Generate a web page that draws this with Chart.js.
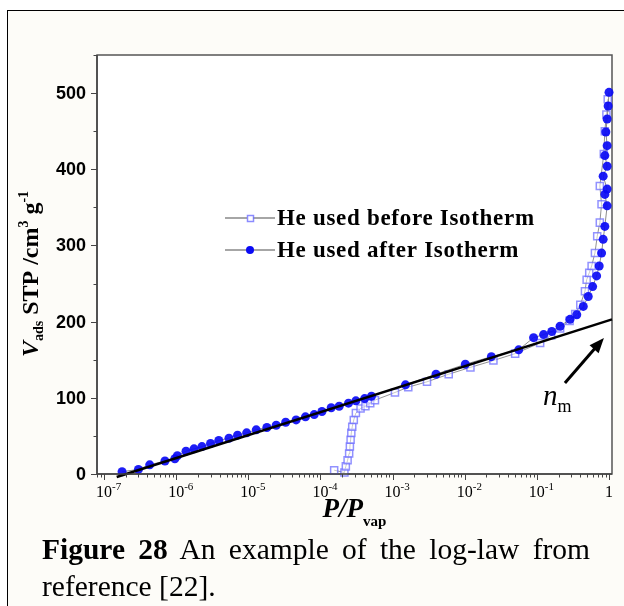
<!DOCTYPE html>
<html>
<head>
<meta charset="utf-8">
<script src="https://cdn.jsdelivr.net/npm/chart.js@4.4.1/dist/chart.umd.min.js"></script>
<style>
  html, body { margin: 0; padding: 0; background: #fff; overflow: hidden; }
  #fig { position: relative; width: 624px; height: 606px; }
  #frame { position: absolute; left: 7px; top: 10px; width: 700px; height: 700px;
           border: 1px solid #000; background: #fdfcf8; }
  #chart { position: absolute; left: 0; top: 0; }
  .caption { position: absolute; left: 42px; font-family: "Liberation Serif", "Times New Roman", serif;
             font-size: 29.5px; line-height: 1; color: #000; white-space: nowrap; }
  .caption.full { width: 548px; text-align: justify; text-align-last: justify; white-space: normal; }
</style>
</head>
<body>
<div id="fig">
  <div id="frame"></div>
  <canvas id="chart" width="624" height="606"></canvas>
  <div class="caption full" style="top:535px"><b>Figure 28</b> An example of the log-law from</div>
  <div class="caption" style="top:572px">reference [22].</div>
</div>
<script>
// relative pressure P/Pvap and adsorbed volume (cm3 STP / g)
const beforeP = [1.55e-4, 2.15e-4, 2.25e-4, 2.38e-4, 2.5e-4, 2.56e-4, 2.62e-4, 2.68e-4, 2.76e-4,
  2.9e-4, 3.1e-4, 3.6e-4, 4.2e-4, 4.9e-4, 5.7e-4, 1.08e-3, 1.65e-3, 3.0e-3, 6.0e-3, 1.2e-2,
  2.5e-2, 5.0e-2, 0.111, 0.158, 0.21, 0.284, 0.34, 0.40, 0.464, 0.49, 0.532, 0.574, 0.638,
  0.686, 0.746, 0.788, 0.746, 0.847, 0.875, 0.92, 0.96];
const beforeV = [5, 2, 10, 18, 27, 36, 45, 54, 62, 71, 80, 86, 89, 93, 97, 107, 114, 121, 131,
  140, 149, 158, 172, 182, 191, 201, 210, 222, 240, 255, 264, 273, 290, 312, 330, 354, 378, 420,
  450, 472, 492];

const afterP = [1.78e-7, 3.0e-7, 4.3e-7, 7.0e-7, 9.6e-7, 1.04e-6, 1.37e-6, 1.77e-6, 2.28e-6,
  3.0e-6, 3.9e-6, 5.4e-6, 7.1e-6, 9.5e-6, 1.29e-5, 1.81e-5, 2.44e-5, 3.3e-5, 4.6e-5, 6.2e-5,
  8.2e-5, 1.05e-4, 1.41e-4, 1.82e-4, 2.45e-4, 3.1e-4, 4.1e-4, 5.1e-4, 1.51e-3, 4.0e-3, 1.02e-2,
  2.34e-2, 5.6e-2, 0.090, 0.124, 0.161, 0.210, 0.288, 0.357, 0.440, 0.515, 0.593, 0.673, 0.731,
  0.789, 0.830, 0.875, 0.942, 0.875, 0.942, 0.830, 0.942, 0.875, 0.942, 0.904, 0.942, 0.973, 1.0];
const afterV = [3, 6, 12, 17, 20, 24, 30, 33, 36, 40, 44, 47, 51, 54, 58, 61, 64, 68, 71, 75,
  78, 82, 87, 89, 93, 96, 99, 102, 117, 131, 144, 154, 163, 179, 183, 187, 194, 203, 209, 220,
  233, 246, 260, 273, 290, 308, 325, 352, 367, 374, 391, 404, 418, 431, 449, 466, 483, 501];

// straight log-law fit through the low-pressure branch
const fitP = [1.5e-7, 1.1];
const fitV = [-4, 203];

const xDecades = [1e-7, 1e-6, 1e-5, 1e-4, 1e-3, 1e-2, 1e-1, 1];
const yTickValues = [0, 100, 200, 300, 400, 500];

const serif = '"Liberation Serif", "Times New Roman", serif';
const sans = '"Liberation Sans", Arial, sans-serif';

function toPoints(xs, ys) {
  return xs.map((x, i) => ({ x: x, y: ys[i] }));
}

// draw a row of text pieces with different fonts / baseline shifts
function drawRuns(ctx, runs, x, y, align) {
  let total = 0;
  runs.forEach(r => { ctx.font = r.font; r.w = ctx.measureText(r.t).width; total += r.w; });
  let cx = align === 'center' ? x - total / 2 : x;
  ctx.textAlign = 'left';
  runs.forEach(r => {
    ctx.font = r.font;
    ctx.fillText(r.t, cx, y + (r.dy || 0));
    cx += r.w;
  });
}

const decor = {
  id: 'decor',
  beforeDraw(chart) {
    const { ctx, chartArea: a } = chart;
    ctx.save();
    ctx.fillStyle = '#fff';
    ctx.fillRect(a.left, a.top, a.right - a.left, a.bottom - a.top);
    ctx.restore();
  },
  beforeDatasetsDraw(chart) {
    const { ctx, chartArea: a } = chart;
    ctx.save();
    ctx.strokeStyle = '#555';
    ctx.lineWidth = 1.5;
    ctx.strokeRect(a.left, a.top, a.right - a.left, a.bottom - a.top);
    ctx.restore();
  },
  afterDraw(chart) {
    const { ctx, chartArea: a, scales } = chart;
    const xs = scales.x, ys = scales.y;
    ctx.save();
    ctx.fillStyle = '#000';
    ctx.textBaseline = 'alphabetic';

    // axis lines and tick marks
    ctx.strokeStyle = '#444';
    ctx.lineWidth = 1.5;
    ctx.beginPath();
    ctx.moveTo(a.left, a.top); ctx.lineTo(a.left, a.bottom); ctx.lineTo(a.right, a.bottom);
    ctx.stroke();
    ctx.lineWidth = 1;
    ctx.beginPath();
    for (let e = -8; e <= 0; e++) {
      for (let m = 1; m <= 9; m++) {
        const v = m * Math.pow(10, e);
        if (v < xs.min || v > xs.max) continue;
        const px = Math.round(xs.getPixelForValue(v)) + 0.5;
        ctx.moveTo(px, a.bottom);
        ctx.lineTo(px, a.bottom + (m === 1 ? 6 : 3.5));
      }
    }
    for (let v = 0; v <= ys.max; v += 50) {
      const py = Math.round(ys.getPixelForValue(v)) + 0.5;
      ctx.moveTo(a.left, py);
      ctx.lineTo(a.left - (v % 100 === 0 ? 6 : 3.5), py);
    }
    ctx.stroke();

    // x tick labels: 10 with superscript exponent
    xDecades.forEach(v => {
      const px = xs.getPixelForValue(v);
      const exp = Math.round(Math.log10(v));
      ctx.textAlign = 'center';
      ctx.font = '16px ' + serif;
      if (exp === 0) {
        ctx.fillText('1', px, 497);
        return;
      }
      ctx.fillText('10', px, 497);
      const w = ctx.measureText('10').width;
      ctx.textAlign = 'left';
      ctx.font = '11px ' + serif;
      ctx.fillText(String(exp), px + w / 2, 490);
    });

    // y tick labels
    ctx.font = 'bold 18px ' + sans;
    ctx.textAlign = 'right';
    ctx.textBaseline = 'middle';
    yTickValues.forEach(v => ctx.fillText(String(v), a.left - 11, ys.getPixelForValue(v) + 1));
    ctx.textBaseline = 'alphabetic';

    // x axis title
    drawRuns(ctx, [
      { t: 'P/P', font: 'italic bold 27px ' + serif },
      { t: 'vap', font: 'bold 15px ' + serif, dy: 9 }
    ], (a.left + a.right) / 2, 517, 'center');

    // y axis title, rotated
    ctx.save();
    ctx.translate(38, 274);
    ctx.rotate(-Math.PI / 2);
    drawRuns(ctx, [
      { t: 'V', font: 'italic bold 24px ' + serif },
      { t: 'ads', font: 'bold 14px ' + serif, dy: 5 },
      { t: ' STP /cm', font: 'bold 24px ' + serif },
      { t: '3', font: 'bold 14px ' + serif, dy: -10 },
      { t: ' g', font: 'bold 24px ' + serif },
      { t: '-1', font: 'bold 14px ' + serif, dy: -10 }
    ], 0, 0, 'center');
    ctx.restore();

    // legend
    const rows = [218, 250];
    chart.data.datasets.slice(0, 2).forEach((ds, i) => {
      const ly = rows[i];
      ctx.strokeStyle = '#888';
      ctx.lineWidth = 1.5;
      ctx.beginPath();
      ctx.moveTo(225, ly); ctx.lineTo(275, ly);
      ctx.stroke();
      if (ds.pointStyle === 'rect') {
        ctx.fillStyle = '#fff';
        ctx.fillRect(247, ly - 3, 6, 6);
        ctx.strokeStyle = ds.borderColor;
        ctx.strokeRect(247.5, ly - 2.5, 6, 6);
      } else {
        ctx.fillStyle = ds.backgroundColor;
        ctx.beginPath(); ctx.arc(250, ly, 4, 0, Math.PI * 2); ctx.fill();
      }
      ctx.fillStyle = '#000';
      ctx.font = 'bold 23px ' + serif;
      ctx.letterSpacing = '0.7px';
      ctx.textAlign = 'left';
      ctx.textBaseline = 'middle';
      ctx.fillText(ds.label, 277, ly + 1);
      ctx.letterSpacing = '0px';
      ctx.textBaseline = 'alphabetic';
    });

    // arrow pointing at the end of the log-law line, with n_m label
    const tipX = xs.getPixelForValue(0.85);
    const tipY = ys.getPixelForValue(fitV[0] + (fitV[1] - fitV[0]) *
      (Math.log10(0.85) - Math.log10(fitP[0])) / (Math.log10(fitP[1]) - Math.log10(fitP[0]))) + 16;
    const tailX = tipX - 39, tailY = tipY + 45;
    const ang = Math.atan2(tipY - tailY, tipX - tailX);
    ctx.strokeStyle = '#000';
    ctx.fillStyle = '#000';
    ctx.lineWidth = 3;
    ctx.beginPath();
    ctx.moveTo(tailX, tailY);
    ctx.lineTo(tipX - 10 * Math.cos(ang), tipY - 10 * Math.sin(ang));
    ctx.stroke();
    ctx.beginPath();
    ctx.moveTo(tipX, tipY);
    ctx.lineTo(tipX - 15 * Math.cos(ang) + 6 * Math.sin(ang), tipY - 15 * Math.sin(ang) - 6 * Math.cos(ang));
    ctx.lineTo(tipX - 15 * Math.cos(ang) - 6 * Math.sin(ang), tipY - 15 * Math.sin(ang) + 6 * Math.cos(ang));
    ctx.closePath();
    ctx.fill();
    drawRuns(ctx, [
      { t: 'n', font: 'italic 29px ' + serif },
      { t: 'm', font: '18px ' + serif, dy: 7 }
    ], tipX - 61, tipY + 67, 'left');

    ctx.restore();
  }
};

new Chart(document.getElementById('chart'), {
  type: 'scatter',
  data: {
    datasets: [
      {
        label: 'He used before Isotherm',
        data: toPoints(beforeP, beforeV),
        showLine: true,
        borderColor: 'rgba(110,110,255,0.8)',
        backgroundColor: 'rgba(255,255,255,0.6)',
        pointStyle: 'rect',
        pointRadius: 5,
        pointBorderWidth: 1.5,
        pointBorderColor: 'rgba(110,110,255,0.75)',
        pointBackgroundColor: 'rgba(255,255,255,0.5)',
        segment: { borderColor: 'rgba(110,110,110,0.75)' },
        borderWidth: 1,
        clip: false,
        order: 2
      },
      {
        label: 'He used after Isotherm',
        data: toPoints(afterP, afterV),
        showLine: true,
        borderColor: 'rgba(100,100,100,0.75)',
        backgroundColor: '#0a0af5',
        pointStyle: 'circle',
        pointRadius: 4.5,
        pointBorderWidth: 0,
        pointBackgroundColor: 'rgba(10,10,245,0.92)',
        borderWidth: 1,
        clip: false,
        order: 1
      },
      {
        label: 'log-law',
        data: toPoints(fitP, fitV),
        showLine: true,
        borderColor: '#000',
        borderWidth: 2.5,
        pointRadius: 0,
        clip: false,
        order: 0
      }
    ]
  },
  options: {
    responsive: false,
    devicePixelRatio: 1,
    animation: false,
    layout: { padding: { top: 55, right: 12, left: 0, bottom: 0 } },
    plugins: { legend: { display: false }, tooltip: { enabled: false } },
    scales: {
      x: {
        type: 'logarithmic',
        min: 8e-8,
        max: 1.1,
        grid: { display: false },
        border: { display: false },
        ticks: { display: false },
        afterFit(scale) { scale.height = 132; }
      },
      y: {
        type: 'linear',
        min: 0,
        max: 550,
        grid: { display: false },
        border: { display: false },
        ticks: { display: false },
        afterFit(scale) { scale.width = 97; }
      }
    }
  },
  plugins: [decor]
});
</script>
</body>
</html>
